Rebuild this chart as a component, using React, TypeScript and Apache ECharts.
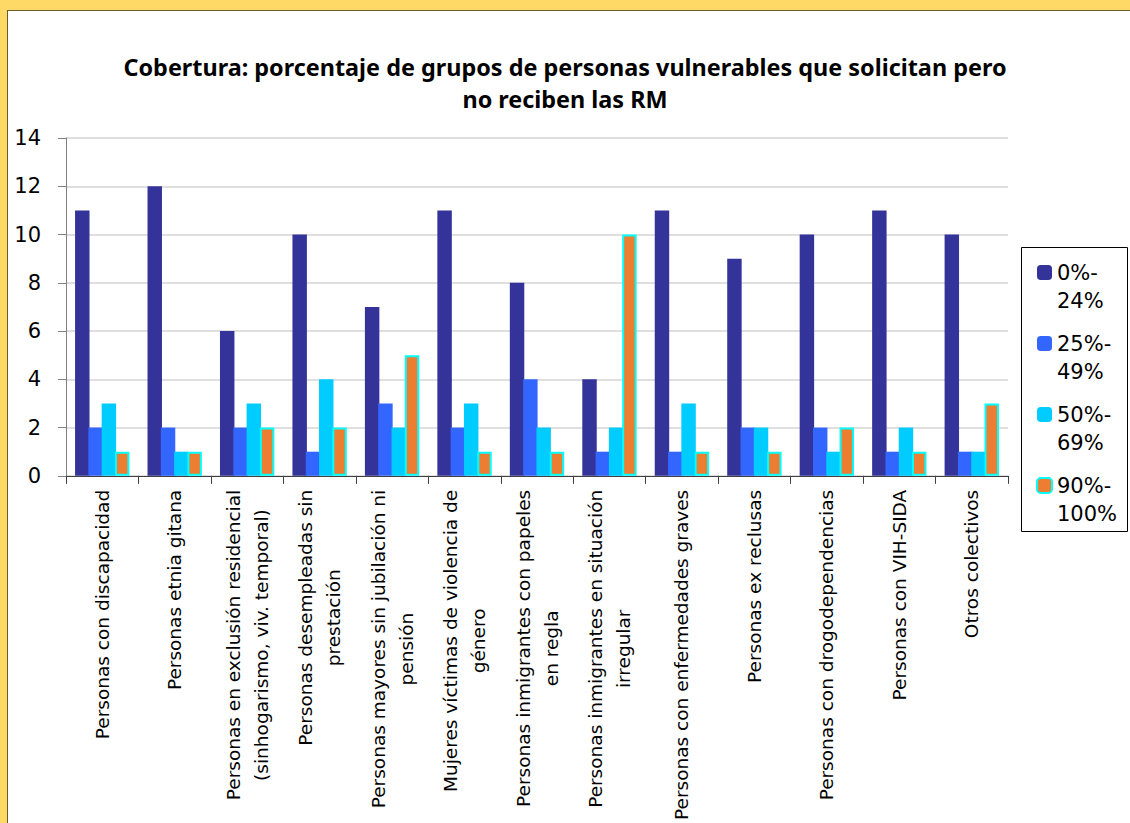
import React, { useEffect, useRef } from "react";
import * as echarts from "echarts";

const categories = [
  "Personas con discapacidad",
  "Personas etnia gitana",
  "Personas en exclusión residencial (sinhogarismo, viv. temporal)",
  "Personas desempleadas sin prestación",
  "Personas mayores sin jubilación ni pensión",
  "Mujeres víctimas de violencia de género",
  "Personas inmigrantes con papeles en regla",
  "Personas inmigrantes en situación irregular",
  "Personas con enfermedades graves",
  "Personas ex reclusas",
  "Personas con drogodependencias",
  "Personas con VIH-SIDA",
  "Otros colectivos",
];

const seriesNames = ["0%-24%", "25%-49%", "50%-69%", "90%-100%"];
const values0to24 = [11, 12, 6, 10, 7, 11, 8, 4, 11, 9, 10, 11, 10];
const values25to49 = [2, 2, 2, 1, 3, 2, 4, 1, 1, 2, 2, 1, 1];
const values50to69 = [3, 1, 3, 4, 2, 3, 2, 2, 3, 2, 1, 2, 1];
const values90to100 = [1, 1, 2, 2, 5, 1, 1, 10, 1, 1, 2, 1, 3];
const yTicks = { min: 0, max: 14, interval: 2 };

const titleText =
  "Cobertura: porcentaje de grupos de personas vulnerables que solicitan pero\nno reciben las RM";

function wrap(text: string, limit: number): string[] {
  const words = text.split(" ");
  const lines: string[] = [];
  let cur = "";
  for (const w of words) {
    const next = cur ? cur + " " + w : w;
    if (next.length > limit && cur) {
      lines.push(cur);
      cur = w;
    } else cur = next;
  }
  if (cur) lines.push(cur);
  return lines;
}

export default function App() {
  const ref = useRef<HTMLDivElement>(null);
  useEffect(() => {
    if (!ref.current) return;
    const chart = echarts.init(ref.current, null, { renderer: "svg" });
    const labelFont = "DejaVu Sans";
    const option: any = {
      animation: false,
      backgroundColor: "transparent",
      title: {
        text: titleText,
        left: "center",
        top: 46,
        textStyle: {
          fontFamily: "Noto Sans",
          fontWeight: "bold",
          fontSize: 23.4,
          lineHeight: 32,
          color: "#000",
        },
      },
      grid: { left: 66, right: 122, top: 138, bottom: 346, containLabel: false },
      legend: {
        orient: "vertical",
        left: 1036,
        top: 262,
        padding: 0,
        itemWidth: 15,
        itemHeight: 15,
        itemGap: 22,
        selectedMode: false,
        data: seriesNames,
        formatter: (n: string) =>
          n
            .replace("-", "-\n")
            .split("\n")
            .map((l) => `{t|${l}}`)
            .join("\n"),
        textStyle: {
          padding: [28, 0, 0, 0],
          rich: {
            t: {
              fontFamily: labelFont,
              fontSize: 21,
              lineHeight: 28,
              color: "#000",
            },
          },
        },
      },
      graphic: [
        {
          type: "rect",
          shape: { x: 1021.5, y: 247.5, width: 106, height: 284 },
          style: { fill: "none", stroke: "#000", lineWidth: 1 },
          z: 10,
        },
      ],
      xAxis: {
        type: "category",
        data: categories,
        axisLine: { lineStyle: { color: "#404040", width: 1 } },
        axisTick: { show: true, length: 8, alignWithLabel: false, lineStyle: { color: "#404040" } },
        axisLabel: {
          interval: 0,
          rotate: 90,
          margin: 14,
          formatter: (v: string) => wrap(v, 34).map((l) => `{c|${l}}`).join("\n"),
          rich: {
            c: {
              align: "center",
              fontFamily: labelFont,
              fontSize: 18.5,
              lineHeight: 28,
              color: "#000",
            },
          },
        },
      },
      yAxis: {
        type: "value",
        min: yTicks.min,
        max: yTicks.max,
        interval: yTicks.interval,
        axisLine: { show: true, lineStyle: { color: "#808080", width: 1 } },
        axisTick: { show: true, length: 8, lineStyle: { color: "#808080" } },
        splitLine: { show: true, lineStyle: { color: "#d4d4d4", width: 1.5 } },
        axisLabel: {
          margin: 25,
          fontFamily: labelFont,
          fontSize: 21,
          color: "#000",
        },
      },
      series: [
        {
          name: seriesNames[0],
          type: "bar",
          data: values0to24,
          barCategoryGap: "25%",
          barGap: "-8%",
          itemStyle: { color: "#333399" },
        },
        {
          name: seriesNames[1],
          type: "bar",
          data: values25to49,
          itemStyle: { color: "#3366FF" },
        },
        {
          name: seriesNames[2],
          type: "bar",
          data: values50to69,
          itemStyle: { color: "#00CCFF" },
        },
        {
          name: seriesNames[3],
          type: "bar",
          data: values90to100,
          itemStyle: { color: "#ED7D31", borderColor: "#00FFFF", borderWidth: 2 },
        },
      ],
    };
    chart.setOption(option);
    return () => chart.dispose();
  }, []);

  return (
    <div
      style={{
        position: "fixed",
        left: 0,
        top: 0,
        width: 1130,
        height: 823,
        background: "#FFD966",
        overflow: "hidden",
      }}
    >
      <div
        style={{
          position: "absolute",
          left: 7,
          top: 10,
          width: 1130,
          height: 830,
          background: "#fff",
          borderLeft: "1px solid #6b5a2a",
          borderTop: "1px solid #6b5a2a",
        }}
      />
      <div ref={ref} style={{ position: "absolute", left: 0, top: 0, width: 1130, height: 823 }} />
    </div>
  );
}
